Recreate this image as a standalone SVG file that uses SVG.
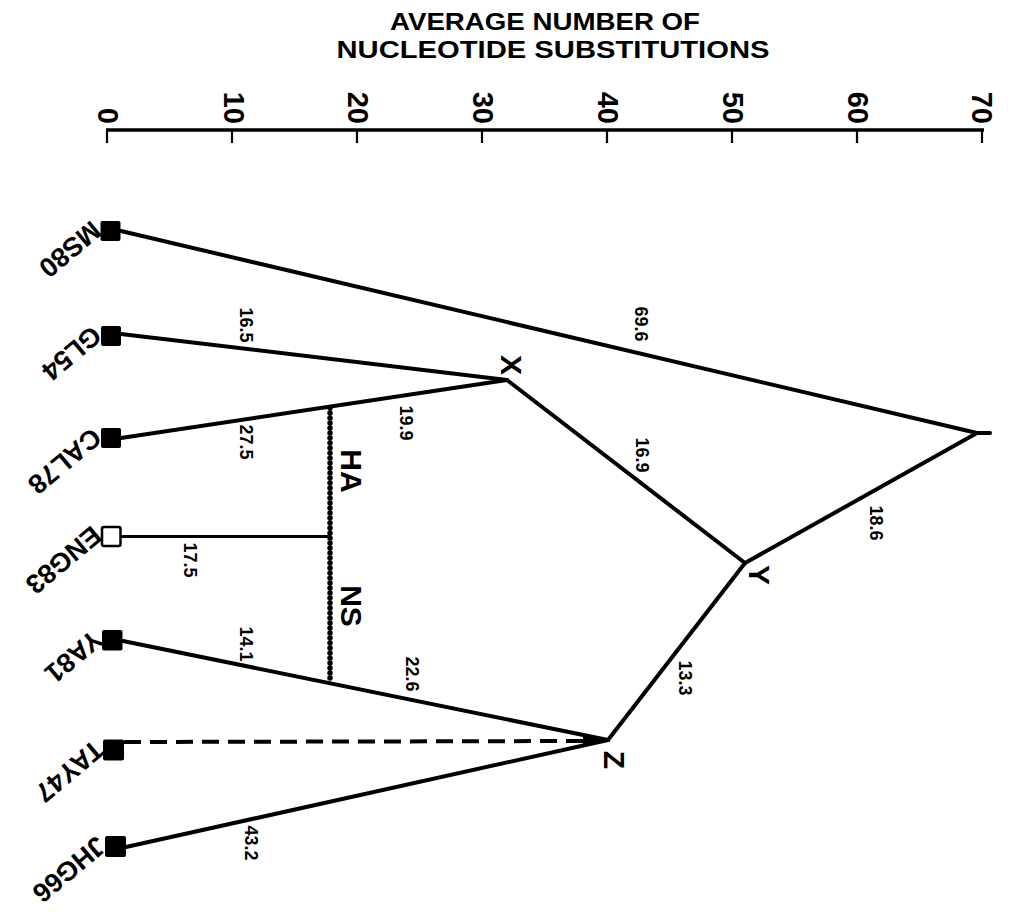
<svg xmlns="http://www.w3.org/2000/svg" width="1018" height="912" viewBox="0 0 1018 912">
<style>
text{font-family:"Liberation Sans",Arial,sans-serif;font-weight:bold;fill:#000}
.title{font-size:24px}
.ax{font-size:29px}
.leaf{font-size:27px}
.el{font-size:18px}
.nl{font-size:30px}
.edge{stroke:#000;stroke-width:4;fill:none;stroke-linecap:round}
.thin{stroke:#000;stroke-width:3;fill:none}
.dots{stroke:#000;stroke-width:5.5;fill:none;stroke-linecap:round;stroke-dasharray:0 5}
.dash{stroke:#000;stroke-width:4;fill:none;stroke-dasharray:17 9}
.sq{fill:#000}
.osq{fill:#fff;stroke:#000;stroke-width:2.5}
</style>
<rect width="1018" height="912" fill="#fff"/>
<g id="title">
<text class="title" x="545" y="30" text-anchor="middle" textLength="310" lengthAdjust="spacingAndGlyphs">AVERAGE NUMBER OF</text>
<text class="title" x="553" y="58" text-anchor="middle" textLength="433" lengthAdjust="spacingAndGlyphs">NUCLEOTIDE SUBSTITUTIONS</text>
</g>
<g id="axis">
<line x1="106" y1="130" x2="984" y2="130" stroke="#000" stroke-width="3.5"/>
<g stroke="#000" stroke-width="2.2">
<line x1="107" y1="130" x2="107" y2="143"/>
<line x1="232" y1="130" x2="232" y2="143"/>
<line x1="357" y1="130" x2="357" y2="143"/>
<line x1="482" y1="130" x2="482" y2="143"/>
<line x1="607" y1="130" x2="607" y2="143"/>
<line x1="732" y1="130" x2="732" y2="143"/>
<line x1="857" y1="130" x2="857" y2="143"/>
<line x1="982" y1="130" x2="982" y2="143"/>
</g>
<text class="ax" transform="translate(108,124) rotate(90)" text-anchor="end" y="10.4">0</text>
<text class="ax" transform="translate(234,124) rotate(90)" text-anchor="end" y="10.4">10</text>
<text class="ax" transform="translate(358,124) rotate(90)" text-anchor="end" y="10.4">20</text>
<text class="ax" transform="translate(483,124) rotate(90)" text-anchor="end" y="10.4">30</text>
<text class="ax" transform="translate(608,124) rotate(90)" text-anchor="end" y="10.4">40</text>
<text class="ax" transform="translate(733,124) rotate(90)" text-anchor="end" y="10.4">50</text>
<text class="ax" transform="translate(858,124) rotate(90)" text-anchor="end" y="10.4">60</text>
<text class="ax" transform="translate(982,124) rotate(90)" text-anchor="end" y="10.4">70</text>
</g>
<g id="connectors">
<line class="edge" x1="121" y1="231" x2="977" y2="433"/>
<line class="edge" x1="977" y1="433" x2="990" y2="433"/>
<line class="edge" x1="121" y1="334" x2="507" y2="380"/>
<line class="edge" x1="121" y1="438" x2="507" y2="380"/>
<line class="edge" x1="507" y1="380" x2="745" y2="563"/>
<line class="edge" x1="745" y1="563" x2="977" y2="433"/>
<line class="edge" x1="745" y1="563" x2="608" y2="740"/>
<line class="thin" x1="121" y1="536.5" x2="330" y2="536.5"/>
<line class="dots" x1="330" y1="408" x2="330" y2="682"/>
<line class="edge" x1="123" y1="641" x2="608" y2="740"/>
<line class="dash" x1="124" y1="742" x2="588" y2="741"/>
<polygon points="583,735 608,740 583,745.5" fill="#000"/>
<line class="edge" x1="126" y1="847" x2="608" y2="740"/>
</g>
<g id="edge-labels">
<text class="el" transform="translate(641,324) rotate(90)" text-anchor="middle" y="6.4">69.6</text>
<text class="el" transform="translate(246,325) rotate(90)" text-anchor="middle" y="6.4">16.5</text>
<text class="el" transform="translate(406,423) rotate(90)" text-anchor="middle" y="6.4">19.9</text>
<text class="el" transform="translate(246,442) rotate(90)" text-anchor="middle" y="6.4">27.5</text>
<text class="el" transform="translate(190,560) rotate(90)" text-anchor="middle" y="6.4">17.5</text>
<text class="el" transform="translate(246,644) rotate(90)" text-anchor="middle" y="6.4">14.1</text>
<text class="el" transform="translate(412,674) rotate(90)" text-anchor="middle" y="6.4">22.6</text>
<text class="el" transform="translate(642,455) rotate(90)" text-anchor="middle" y="6.4">16.9</text>
<text class="el" transform="translate(685,678) rotate(90)" text-anchor="middle" y="6.4">13.3</text>
<text class="el" transform="translate(876,523) rotate(90)" text-anchor="middle" y="6.4">18.6</text>
<text class="el" transform="translate(251,843) rotate(90)" text-anchor="middle" y="6.4">43.2</text>
<text class="nl" transform="translate(352,471) rotate(90)" text-anchor="middle" y="10.7">HA</text>
<text class="nl" transform="translate(352,606) rotate(90)" text-anchor="middle" y="10.7">NS</text>
</g>
<g id="node-X"><text class="nl" transform="translate(512,365) rotate(90)" text-anchor="middle" y="10.7">X</text></g>
<g id="node-Y"><text class="nl" transform="translate(760,575) rotate(90)" text-anchor="middle" y="10.7">Y</text></g>
<g id="node-Z"><text class="nl" transform="translate(615,760) rotate(90)" text-anchor="middle" y="10.7">Z</text></g>
<g id="node-MS80"><rect class="sq" x="100.5" y="221" width="20" height="20" rx="2"/><text class="leaf" transform="translate(91,219.5) rotate(140)">MS80</text></g>
<g id="node-GL54"><rect class="sq" x="101" y="326" width="20" height="20" rx="2"/><text class="leaf" transform="translate(91.5,324.5) rotate(140)">GL54</text></g>
<g id="node-CAL78"><rect class="sq" x="101" y="428" width="20" height="20" rx="2"/><text class="leaf" transform="translate(91.5,426.5) rotate(140)">CAL78</text></g>
<g id="node-ENG83"><rect class="osq" x="102" y="527" width="18.5" height="19" rx="2"/><text class="leaf" transform="translate(91.5,524.5) rotate(140)">ENG83</text></g>
<g id="node-YA81"><rect class="sq" x="102" y="630" width="20.5" height="20.5" rx="2"/><text class="leaf" transform="translate(92.5,628.5) rotate(140)">YA81</text></g>
<g id="node-TAY47"><rect class="sq" x="103" y="739.5" width="21" height="21" rx="2"/><text class="leaf" transform="translate(94,738.5) rotate(140)">TAY47</text></g>
<g id="node-JHG66"><rect class="sq" x="105" y="836" width="21" height="21" rx="2"/><text class="leaf" transform="translate(96,835) rotate(140)">JHG66</text></g>
</svg>
